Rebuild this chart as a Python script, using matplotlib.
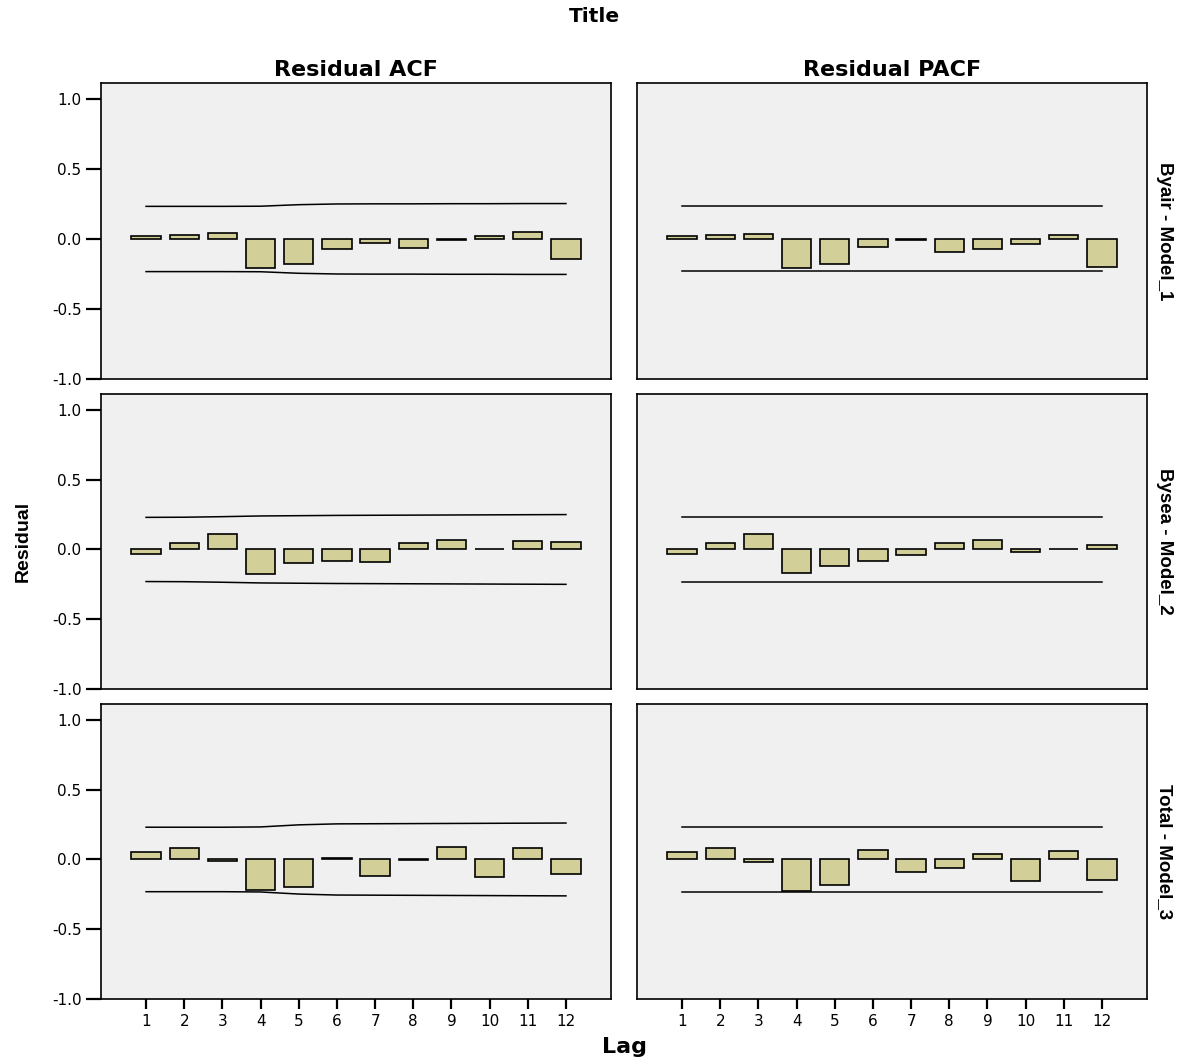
import numpy as np
import matplotlib.pyplot as plt

# lags and residual correlations
lags = np.arange(1, 13)

acf_1 = [0.02, 0.03, 0.04, -0.205, -0.18, -0.07, -0.03, -0.065, -0.005, 0.02, 0.05, -0.145]
pacf_1 = [0.02, 0.03, 0.035, -0.21, -0.18, -0.06, -0.005, -0.093, -0.074, -0.038, 0.025, -0.2]
acf_2 = [-0.033, 0.045, 0.112, -0.176, -0.095, -0.081, -0.088, 0.045, 0.07, 0.005, 0.058, 0.05]
pacf_2 = [-0.033, 0.045, 0.114, -0.171, -0.119, -0.086, -0.043, 0.045, 0.069, -0.019, 0.003, 0.033]
acf_3 = [0.057, 0.083, -0.01, -0.219, -0.195, 0.012, -0.117, -0.003, 0.086, -0.126, 0.083, -0.105]
pacf_3 = [0.057, 0.081, -0.02, -0.226, -0.181, 0.069, -0.09, -0.062, 0.036, -0.155, 0.06, -0.148]

# confidence limits (upper; lower is the negative)
acf_ci_1 = [0.233, 0.233, 0.233, 0.234, 0.245, 0.250, 0.251, 0.251, 0.252, 0.252, 0.253, 0.253]
pacf_ci_1 = [0.232, 0.232, 0.232, 0.232, 0.232, 0.232, 0.232, 0.232, 0.232, 0.232, 0.232, 0.232]
acf_ci_2 = [0.230, 0.231, 0.235, 0.240, 0.242, 0.244, 0.245, 0.246, 0.247, 0.248, 0.249, 0.250]
pacf_ci_2 = [0.231, 0.231, 0.231, 0.231, 0.231, 0.231, 0.231, 0.231, 0.231, 0.231, 0.231, 0.231]
acf_ci_3 = [0.231, 0.231, 0.231, 0.233, 0.248, 0.255, 0.256, 0.257, 0.258, 0.259, 0.260, 0.261]
pacf_ci_3 = [0.230, 0.230, 0.230, 0.230, 0.230, 0.230, 0.230, 0.230, 0.230, 0.230, 0.230, 0.230]

row_names = ['Byair - Model_1', 'Bysea - Model_2', 'Total - Model_3']
col_names = ['Residual ACF', 'Residual PACF']
yticks = [-1.0, -0.5, 0.0, 0.5, 1.0]

data = [[acf_1, pacf_1], [acf_2, pacf_2], [acf_3, pacf_3]]
cis = [[acf_ci_1, pacf_ci_1], [acf_ci_2, pacf_ci_2], [acf_ci_3, pacf_ci_3]]

W, Hpx = 1182, 1061
fig = plt.figure(figsize=(W/100, Hpx/100), dpi=100)
fig.patch.set_facecolor('white')

narrow = ['Liberation Sans', 'DejaVu Sans']

xl = [101, 637]
xw = 510
ytop = [83, 394, 704]
yh = [296, 295, 295]

for r in range(3):
    for c in range(2):
        ax = fig.add_axes([xl[c]/W, 1 - (ytop[r]+yh[r])/Hpx, xw/W, yh[r]/Hpx])
        ax.set_facecolor('#f0f0f0')
        ax.bar(lags, data[r][c], width=0.77, color='#d3cf99', edgecolor='black', linewidth=1.2, zorder=3)
        ci = np.array(cis[r][c])
        ax.plot(lags, ci, color='black', linewidth=1.1, zorder=2)
        ax.plot(lags, -ci, color='black', linewidth=1.1, zorder=2)
        ax.set_xlim(-0.18, 13.18)
        ax.set_ylim(-1.0, 1.114)
        for s in ax.spines.values():
            s.set_linewidth(1.2)
            s.set_color('black')
        if c == 0:
            ax.set_yticks(yticks)
            ax.set_yticklabels(['%.1f' % v for v in yticks], fontsize=11)
            ax.tick_params(axis='y', length=11, width=1.6, pad=3)
        else:
            ax.set_yticks([])
        if r == 2:
            ax.set_xticks(lags)
            ax.set_xticklabels([str(l) for l in lags], fontsize=11)
            ax.tick_params(axis='x', length=7, width=1.6, pad=4)
        else:
            ax.set_xticks([])
        if r == 0:
            ax.set_title(col_names[c], fontsize=16, fontweight='bold', pad=5)
        if c == 1:
            ax.text(1.035, 0.5, row_names[r], transform=ax.transAxes, rotation=270,
                    ha='center', va='center', fontsize=13.5, fontweight='bold', family=narrow)

fig.text(594/W, 1 - 16/Hpx, 'Title', ha='center', va='center', fontsize=14.5, fontweight='bold')
fig.text(624/W, 1 - 1047/Hpx, 'Lag', ha='center', va='center', fontsize=16, fontweight='bold')
fig.text(23/W, 1 - 541/Hpx, 'Residual', ha='center', va='center', rotation=90,
         fontsize=14, fontweight='bold', family=narrow)

fig.savefig('out.png', dpi=100)
